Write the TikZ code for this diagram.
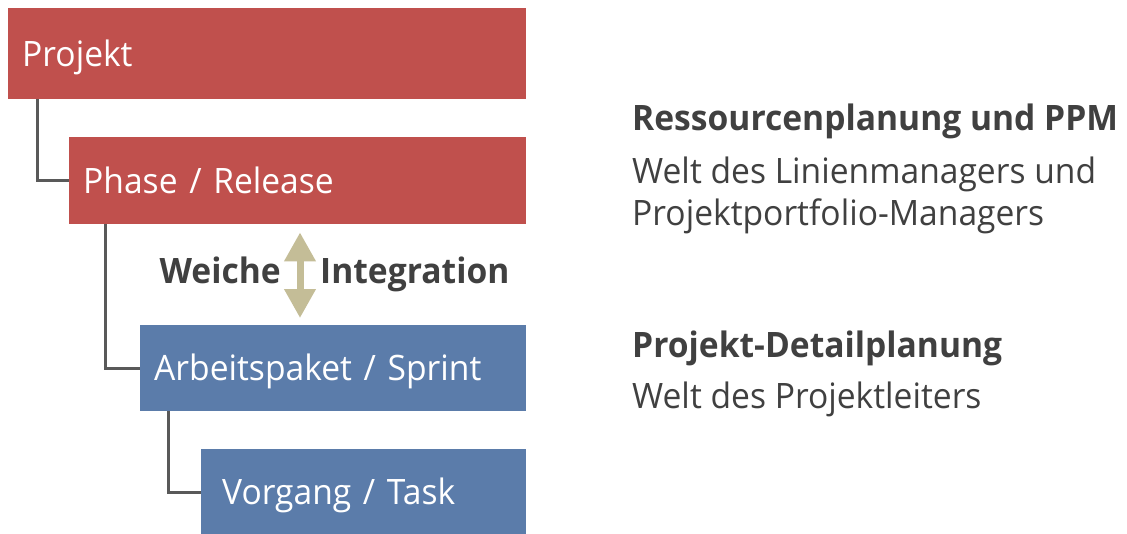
\documentclass[tikz,border=0pt]{standalone}
\usepackage{fontspec}
\setmainfont{Open Sans}[FakeStretch=0.96]
\usetikzlibrary{arrows.meta, backgrounds}

\definecolor{ebenerot}{HTML}{C0504D}
\definecolor{ebeneblau}{HTML}{5B7CAA}
\definecolor{textgrau}{HTML}{404040}
\definecolor{liniengrau}{HTML}{595959}
\definecolor{pfeilbeige}{HTML}{C4BD97}

\begin{document}
\begin{tikzpicture}[x=1pt, y=-1pt,
    background rectangle/.style={fill=white},
    show background rectangle, inner frame sep=0pt,
    ebene/.style={anchor=north west, inner xsep=14pt, inner ysep=0pt,
      text=white, align=left, text height=25pt, text depth=0pt,
      font=\fontsize{35}{42}\selectfont},
    verbindung/.style={draw=liniengrau, line width=3pt},
    doppelpfeil/.style={draw=pfeilbeige, line width=7pt,
      {Triangle[width=30pt, length=29pt]}-{Triangle[width=30pt, length=29pt]}},
    kopf/.style={anchor=base west, inner sep=0pt, text=textgrau,
      font=\fontsize{35}{42}\selectfont\bfseries},
    beschreibung/.style={anchor=base west, inner sep=0pt, text=textgrau,
      align=left, font=\fontsize{35}{42}\selectfont}]
    \useasboundingbox (0,0) rectangle (1127,533);

    % The four planning levels
    \node[ebene, fill=ebenerot, text width=490pt, minimum height=91pt] (projekt) at (8,8) {Projekt};
    \node[ebene, fill=ebenerot, text width=429pt, minimum height=87pt] (phase) at (69,137) {Phase / Release};
    \node[ebene, fill=ebeneblau, text width=358pt, minimum height=86pt] (arbeitspaket) at (140,325) {Arbeitspaket / Sprint};
    \node[ebene, fill=ebeneblau, inner xsep=21pt, text width=283pt, minimum height=86pt] (vorgang) at (201,449) {Vorgang / Task};

    % Elbow lines between the levels
    \draw[verbindung] ([xshift=29pt]projekt.south west) |- (phase.west);
    \draw[verbindung] ([xshift=36pt]phase.south west) |- (arbeitspaket.west);
    \draw[verbindung] ([xshift=28pt]arbeitspaket.south west) |- (vorgang.west);

    % Soft integration between both worlds
    \coordinate (pfeiloben) at ([xshift=231pt, yshift=-8pt]phase.south west);
    \coordinate (pfeilunten) at ([xshift=160pt, yshift=7pt]arbeitspaket.north west);
    \draw[doppelpfeil] (pfeiloben) -- (pfeilunten);
    \node[kopf, anchor=base east] (weiche) at (281,283) {Weiche};
    \node[kopf] (integration) at (320,283) {Integration};

    % Descriptions on the right
    \node[kopf] (ressourcen) at (632,130) {Ressourcenplanung und PPM};
    \node[beschreibung] (linie) at (632,183) {Welt des Linienmanagers und};
    \node[beschreibung] (portfolio) at (632,225) {Projektportfolio-Managers};
    \node[kopf] (detail) at (632,357) {Projekt-Detailplanung};
    \node[beschreibung] (leiter) at (632,408) {Welt des Projektleiters};
\end{tikzpicture}
\end{document}
